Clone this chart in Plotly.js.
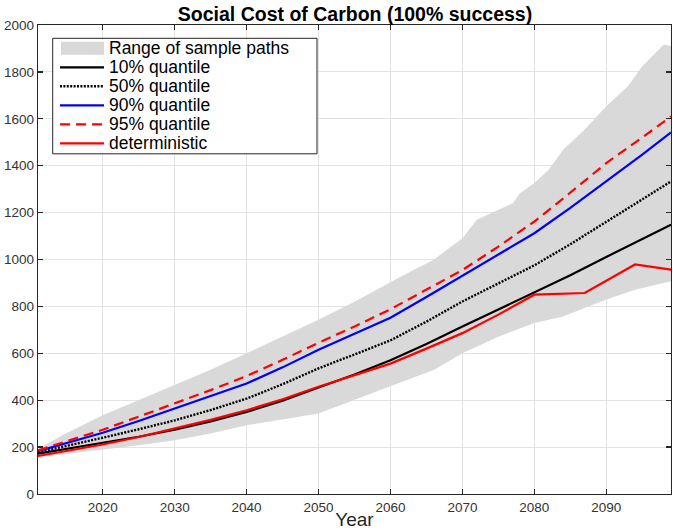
<!DOCTYPE html>
<html>
<head>
<meta charset="utf-8">
<script src="https://cdn.plot.ly/plotly-3.0.1.min.js"></script>
<style>
html,body{margin:0;padding:0;background:#fff;}
#chart{width:673px;height:530px;}
</style>
</head>
<body>
<div id="chart"></div>
<script>
// ---- data ----
const years = [2011, 2015, 2020, 2025, 2030, 2035, 2040, 2045, 2050, 2055, 2060, 2065, 2070, 2075, 2080, 2085, 2090, 2095, 2099];
const q10 = [172, 192, 217, 244, 274, 309, 350, 398, 454, 510, 570, 640, 714, 787, 860, 933, 1011, 1088, 1148];
const q50 = [178, 205, 240, 276, 314, 358, 407, 468, 536, 595, 655, 735, 821, 898, 975, 1065, 1160, 1255, 1333];
const q90 = [183, 218, 261, 311, 364, 416, 471, 540, 615, 683, 752, 840, 930, 1020, 1112, 1220, 1333, 1447, 1542];
const q95 = [186, 226, 274, 330, 386, 443, 503, 572, 645, 714, 788, 870, 955, 1055, 1162, 1285, 1411, 1520, 1610];

const detYears = [2011, 2015, 2020, 2025, 2030, 2035, 2040, 2045, 2050, 2055, 2060, 2065, 2070, 2075, 2080, 2087, 2094, 2099];
const detValues = [162, 183, 211, 243, 279, 316, 357, 404, 457, 507, 556, 620, 686, 765, 850, 857, 979, 957];

const bandUpperYears = [2011, 2015, 2020, 2025, 2030, 2035, 2040, 2045, 2050, 2055, 2058, 2061, 2066, 2070, 2072, 2075, 2077, 2078, 2080, 2082, 2084, 2087, 2090, 2093, 2095, 2098, 2099];
const bandUpper = [193, 260, 336, 400, 464, 530, 600, 670, 743, 820, 870, 920, 999, 1091, 1169, 1212, 1240, 1283, 1326, 1383, 1468, 1554, 1653, 1739, 1824, 1917, 1910];
const bandLowerYears = [2011, 2015, 2020, 2025, 2030, 2035, 2040, 2045, 2050, 2055, 2061, 2066, 2070, 2075, 2080, 2084, 2090, 2094, 2099];
const bandLower = [157, 170, 189, 208, 229, 258, 293, 318, 343, 400, 471, 529, 600, 671, 729, 757, 829, 871, 907];

const seriesNames = ['Range of sample paths', '10% quantile', '50% quantile', '90% quantile', '95% quantile', 'deterministic'];
const xTicks = [2020, 2030, 2040, 2050, 2060, 2070, 2080, 2090];
const yTicks = [0, 200, 400, 600, 800, 1000, 1200, 1400, 1600, 1800, 2000];

// ---- styles ----
const FONT = 'Liberation Sans, Arial, Helvetica, sans-serif';
const styles = [
  {kind: 'band', color: '#d9d9d9'},
  {color: '#000000', width: 2.2, dash: 'solid'},
  {color: '#000000', width: 2.4, dash: '2px,1.4px'},
  {color: '#0000ff', width: 2.2, dash: 'solid'},
  {color: '#ff0000', width: 2.2, dash: '10px,6px'},
  {color: '#ff0000', width: 2.2, dash: 'solid'}
];

const bandX = bandUpperYears.concat(bandLowerYears.slice().reverse());
const bandY = bandUpper.concat(bandLower.slice().reverse());

const traces = [
  {x: bandX, y: bandY, type: 'scatter', mode: 'lines', fill: 'toself', fillcolor: styles[0].color,
   line: {width: 0, color: styles[0].color}, name: seriesNames[0], hoverinfo: 'skip'},
  {x: years, y: q10, type: 'scatter', mode: 'lines', name: seriesNames[1], line: styles[1]},
  {x: years, y: q50, type: 'scatter', mode: 'lines', name: seriesNames[2], line: styles[2]},
  {x: years, y: q90, type: 'scatter', mode: 'lines', name: seriesNames[3], line: styles[3]},
  {x: years, y: q95, type: 'scatter', mode: 'lines', name: seriesNames[4], line: styles[4]},
  {x: detYears, y: detValues, type: 'scatter', mode: 'lines', name: seriesNames[5], line: styles[5]}
].map(t => Object.assign(t, {showlegend: false}));

// ---- hand-drawn legend box (pixel -> paper) ----
const M = {l: 38, r: 2, t: 25, b: 36};
const PW = 673 - M.l - M.r, PH = 530 - M.t - M.b;
const px = v => (v - M.l) / PW;
const py = v => (530 - M.b - v) / PH;

const ROW0 = 48.3, PITCH = 19;
const shapes = [];
const annotations = [];
shapes.push({type: 'rect', xref: 'paper', yref: 'paper', x0: px(52.7), x1: px(317), y0: py(ROW0 + 5 * PITCH + 10.5), y1: py(38.3),
  fillcolor: '#ffffff', line: {color: '#262626', width: 1}, layer: 'above'});
seriesNames.forEach((nm, i) => {
  const cy = ROW0 + i * PITCH;
  if (styles[i].kind === 'band') {
    shapes.push({type: 'rect', xref: 'paper', yref: 'paper', x0: px(61), x1: px(104), y0: py(cy + 6.5), y1: py(cy - 6.5),
      fillcolor: styles[i].color, line: {width: 0}, layer: 'above'});
  } else {
    shapes.push({type: 'line', xref: 'paper', yref: 'paper', x0: px(60), x1: px(104), y0: py(cy), y1: py(cy),
      line: {color: styles[i].color, width: styles[i].width, dash: styles[i].dash}, layer: 'above'});
  }
  annotations.push({xref: 'paper', yref: 'paper', x: px(107), y: py(cy), xanchor: 'left', yanchor: 'middle',
    text: nm, showarrow: false, font: {family: FONT, size: 17.5, color: '#000'}});
});

const axisCommon = {
  showgrid: true, gridcolor: '#e3e3e3', gridwidth: 1,
  showline: true, linecolor: '#262626', linewidth: 1.3, mirror: 'ticks',
  ticks: 'inside', ticklen: 5, tickwidth: 1.3, tickcolor: '#262626',
  zeroline: false, tickfont: {family: FONT, size: 13.5, color: '#333'}
};

const layout = {
  width: 673, height: 530,
  margin: M,
  paper_bgcolor: '#ffffff', plot_bgcolor: '#ffffff',
  font: {family: FONT},
  title: {text: '<b>Social Cost of Carbon (100% success)</b>', font: {family: FONT, size: 19.5, color: '#000'},
    x: px(355), xref: 'paper', xanchor: 'center', y: 1 - 14 / 530, yref: 'container', yanchor: 'middle'},
  xaxis: Object.assign({}, axisCommon, {range: [2011, 2099], tickvals: xTicks, ticktext: xTicks.map(String),
    title: {text: 'Year', font: {family: FONT, size: 19, color: '#262626'}, standoff: 2}}),
  yaxis: Object.assign({}, axisCommon, {range: [0, 2000], tickvals: yTicks, ticktext: yTicks.map(String)}),
  shapes: shapes,
  annotations: annotations,
  showlegend: false
};

Plotly.newPlot('chart', traces, layout, {displayModeBar: false, staticPlot: true});
</script>
</body>
</html>
